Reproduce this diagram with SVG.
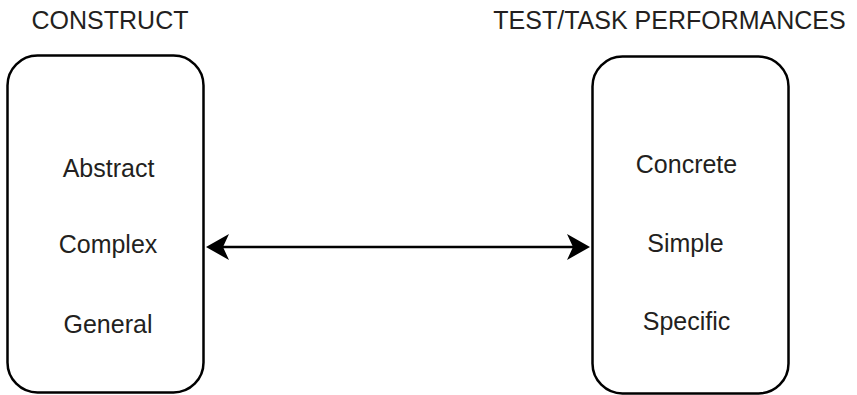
<svg xmlns="http://www.w3.org/2000/svg" width="857" height="395" viewBox="0 0 857 395">
<style>
.box{fill:#fff;stroke:#000;stroke-width:2.5}
.t{font-family:"Liberation Sans",Arial,sans-serif;font-size:25px;fill:#231f20;text-anchor:middle}
.conn{stroke:#000;stroke-width:2.5;fill:none}
.head{fill:#000}
</style>
<rect width="857" height="395" fill="#fff"/>
<g id="construct">
<text class="t" x="110" y="28.5">CONSTRUCT</text>
<rect class="box" x="7.5" y="55.5" width="196" height="337" rx="30" ry="30"/>
<text class="t" x="108.5" y="177">Abstract</text>
<text class="t" x="108" y="253">Complex</text>
<text class="t" x="108" y="333">General</text>
</g>
<g id="performances">
<text class="t" x="669.5" y="28.5">TEST/TASK PERFORMANCES</text>
<rect class="box" x="592.5" y="56.5" width="196" height="337" rx="30" ry="30"/>
<text class="t" x="686.5" y="173">Concrete</text>
<text class="t" x="685.5" y="252">Simple</text>
<text class="t" x="686.5" y="330">Specific</text>
</g>
<g id="connectors">
<line class="conn" x1="215" y1="247" x2="581" y2="247"/>
<polygon class="head" points="206,247 229,234 223,247 229,260"/>
<polygon class="head" points="590,247 567,234 573,247 567,260"/>
</g>
</svg>
